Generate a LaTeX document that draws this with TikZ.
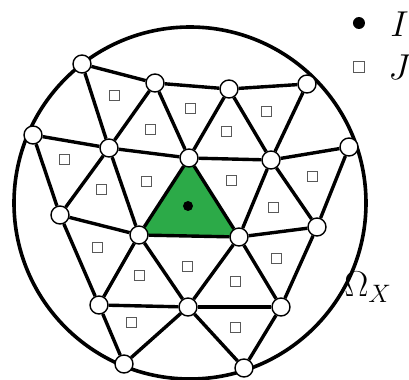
\RequirePackage{fix-cm}
\documentclass[tikz,border=0pt]{standalone}
\usepackage{amsmath,amssymb}
\usepackage{tikz}
\usetikzlibrary{backgrounds}
\definecolor{meshgreen}{RGB}{44,170,72}

\begin{document}
\begin{tikzpicture}[x=0.5pt, y=-0.5pt,
            vtx/.style={circle, draw, fill=white, line width=0.7pt, minimum size=9pt, inner sep=0pt},
            jpt/.style={rectangle, draw=black!65, fill=white, line width=0.5pt, minimum size=5pt, inner sep=0pt},
            ipt/.style={circle, fill=black, minimum size=5pt, inner sep=0pt},
            meshedge/.style={line width=1.7pt},
            lbl/.style={font=\fontsize{18}{20}\selectfont, inner sep=0pt, anchor=base west}
        ]
            \useasboundingbox (0,0) rectangle (409,380);
            % domain
            \draw[line width=1.8pt] (190,203) circle[radius=88pt];
            % mesh vertices
            \foreach \n/\x/\y in {a/82/64, b/155/83, c/33/135, d/109/148, e/189/158,
                f/229/89, g/307/84, h/271/160, k/349/147, l/60/215, m/139/235,
                n/99/305, o/188/307, p/124/364, q/239/237, r/317/227, s/281/307, t/244/368}
                \node[vtx] (\n) at (\x,\y) {};
            % selected element
            \begin{scope}[on background layer]
                \fill[meshgreen] (e.center) -- (m.center) -- (q.center) -- cycle;
            \end{scope}
            % edges
            \foreach \u/\v in {a/b, a/d, b/d, b/e, b/f, c/d, c/l, d/e, d/l, d/m,
                e/f, e/h, e/m, e/q, f/g, f/h, g/h, h/k, h/q, h/r, k/r, l/m, l/n,
                m/n, m/o, m/q, n/o, n/p, o/p, o/q, o/t, q/r, q/s, r/s, s/t}
                \draw[meshedge] (\u) -- (\v);
            \draw[meshedge, line width=2.4pt] (o) -- (s);
            % element points
            \foreach \x/\y [count=\i] in {115/96, 191/109, 151/130, 65/160, 147/182, 102/190,
                267/112, 227/132, 232/181, 313/177, 274/208, 98/248, 140/276, 188/267,
                236/282, 277/259, 132/323, 236/328}
                \node[jpt] (j\i) at (\x,\y) {};
            \node[ipt] (i1) at (188,206) {};
            % legend
            \node[ipt, minimum size=6pt] (ikey) at (359,23) {};
            \node[lbl] (itxt) at (390,37) {$I$};
            \node[jpt, minimum size=5.5pt] (jkey) at (359,67) {};
            \node[lbl] (jtxt) at (388,80) {$J$};
            \node[lbl] (omegax) at (344,297) {$\Omega_X$};
        \end{tikzpicture}
\end{document}
